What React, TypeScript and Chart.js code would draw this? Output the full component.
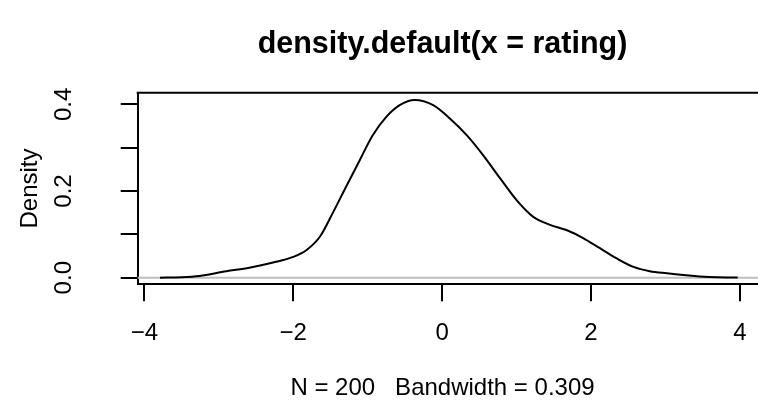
import React, { useEffect, useRef } from 'react';
import { Chart, registerables } from 'chart.js';

Chart.register(...registerables);

// Density estimate (x = rating, y = density)
const ratingGrid = [-3.79, -3.5, -3.26, -2.9, -2.59, -2.27, -2.0, -1.82, -1.64, -1.47, -1.29, -1.11, -0.93, -0.75, -0.57, -0.37, -0.12, 0.1, 0.33, 0.55, 0.78, 1.0, 1.22, 1.45, 1.67, 1.9, 2.12, 2.34, 2.57, 2.79, 3.02, 3.24, 3.46, 3.7, 3.97];
const densityValues = [0, 0.001, 0.004, 0.015, 0.023, 0.035, 0.048, 0.064, 0.095, 0.149, 0.21, 0.27, 0.329, 0.371, 0.398, 0.41, 0.398, 0.368, 0.329, 0.283, 0.229, 0.179, 0.141, 0.122, 0.11, 0.091, 0.068, 0.045, 0.025, 0.015, 0.01, 0.006, 0.003, 0.001, 0.0005];

const xTicks = [-4, -2, 0, 2, 4];
const xTickLabels = ['\u22124', '\u22122', '0', '2', '4'];
const yTicks = [0, 0.1, 0.2, 0.3, 0.4];
const yTickLabels = ['0.0', '', '0.2', '', '0.4'];

const titleText = 'density.default(x = rating)';
const xLabel = 'N = 200   Bandwidth = 0.309';
const yLabel = 'Density';

const FONT = "'Liberation Sans', Arial, Helvetica, sans-serif";
const AXIS_SIZE = 24;
const TITLE_CENTER_X = 442.5;

const rBoxPlugin = {
  id: 'rBox',
  afterLayout(chart: any) {
    const tb = chart.titleBlock;
    if (tb) {
      const half = tb.right - TITLE_CENTER_X;
      tb.left = TITLE_CENTER_X - half;
      tb.width = tb.right - tb.left;
    }
    const xs = chart.scales.x;
    if (xs && !xs.__titlePatched) {
      const orig = xs.drawTitle;
      xs.drawTitle = function (...args: any[]) {
        const l = this.left;
        this.left = 2 * TITLE_CENTER_X - this.right;
        orig.apply(this, args);
        this.left = l;
      };
      xs.__titlePatched = true;
    }
  },
  beforeDatasetsDraw(chart: any) {
    const { ctx, chartArea, scales } = chart;
    const y0 = scales.y.getPixelForValue(0);
    ctx.save();
    ctx.strokeStyle = '#BEBEBE';
    ctx.lineWidth = 2;
    ctx.beginPath();
    ctx.moveTo(chartArea.left, y0);
    ctx.lineTo(chartArea.right, y0);
    ctx.stroke();
    ctx.restore();
  },
  afterDraw(chart: any) {
    const { ctx, chartArea } = chart;
    ctx.save();
    ctx.strokeStyle = '#000';
    ctx.lineWidth = 2;
    ctx.beginPath();
    ctx.moveTo(chartArea.left - 1, chartArea.top);
    ctx.lineTo(chartArea.right, chartArea.top);
    ctx.stroke();
    ctx.restore();
  },
};

export default function App() {
  const ref = useRef<HTMLCanvasElement>(null);

  useEffect(() => {
    document.body.style.margin = '0';
    const canvas = ref.current!;
    const chart = new Chart(canvas, {
      type: 'line',
      data: {
        datasets: [
          {
            data: ratingGrid.map((x, i) => ({ x, y: densityValues[i] })),
            borderColor: '#000',
            borderWidth: 2,
            pointRadius: 0,
            fill: false,
            cubicInterpolationMode: 'monotone',
          },
        ],
      },
      options: {
        animation: false,
        responsive: false,
        devicePixelRatio: 1,
        events: [],
        layout: { padding: 0 },
        plugins: {
          legend: { display: false },
          tooltip: { enabled: false },
          title: {
            display: true,
            text: titleText,
            fullSize: false,
            color: '#000',
            font: { family: FONT, size: 30.5, weight: 'bold', lineHeight: 1.2 },
            padding: { top: 26.7, bottom: 29.4 },
          },
        },
        scales: {
          x: {
            type: 'linear',
            min: -4.089,
            max: 4.243,
            afterBuildTicks: (scale: any) => {
              scale.ticks = xTicks.map((v) => ({ value: v }));
            },
            afterFit: (scale: any) => {
              scale.height = 129.7;
              scale.paddingLeft = 0;
              scale.paddingRight = 0;
            },
            grid: {
              drawOnChartArea: false,
              drawTicks: true,
              tickLength: 17,
              color: '#000',
              lineWidth: 2,
            },
            border: { display: true, color: '#000', width: 2 },
            ticks: {
              autoSkip: false,
              maxRotation: 0,
              minRotation: 0,
              padding: 17.3,
              color: '#000',
              font: { family: FONT, size: AXIS_SIZE, lineHeight: 1.2 },
              callback: (_v: any, i: number) => xTickLabels[i],
            },
            title: {
              display: true,
              text: xLabel,
              color: '#000',
              font: { family: FONT, size: AXIS_SIZE, lineHeight: 1.2 },
              padding: { top: 0, bottom: 11.6 },
            },
          },
          y: {
            type: 'linear',
            min: -0.01522,
            max: 0.4268,
            afterBuildTicks: (scale: any) => {
              scale.ticks = yTicks.map((v) => ({ value: v }));
            },
            afterFit: (scale: any) => {
              scale.width = 137.7;
              scale.paddingTop = 0;
              scale.paddingBottom = 0;
            },
            grid: {
              drawOnChartArea: false,
              drawTicks: true,
              tickLength: 17,
              color: '#000',
              lineWidth: 2,
            },
            border: { display: true, color: '#000', width: 2 },
            ticks: {
              autoSkip: false,
              minRotation: 90,
              maxRotation: 90,
              crossAlign: 'center',
              padding: 40,
              color: '#000',
              font: { family: FONT, size: AXIS_SIZE, lineHeight: 1.2 },
              callback: (_v: any, i: number) => yTickLabels[i],
            },
            title: {
              display: true,
              text: yLabel,
              color: '#000',
              font: { family: FONT, size: AXIS_SIZE, lineHeight: 1.2 },
              padding: { top: 15.6, bottom: 0 },
            },
          },
        },
      } as any,
      plugins: [rBoxPlugin],
    });
    return () => chart.destroy();
  }, []);

  return (
    <canvas
      ref={ref}
      width={758}
      height={414}
      style={{ display: 'block', width: '758px', height: '414px' }}
    />
  );
}
